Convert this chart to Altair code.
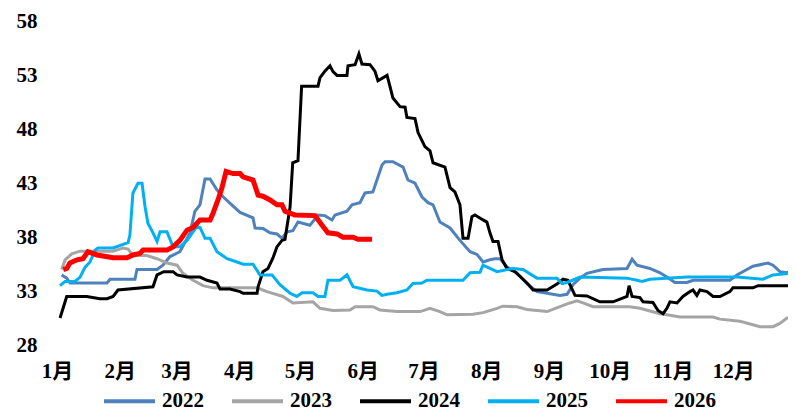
import altair as alt
import pandas as pd

# Month tick labels (day-of-year positions of month starts)
month_days = [0, 31, 59, 90, 120, 151, 181, 212, 243, 273, 304, 334]
month_labels = ["1月", "2月", "3月", "4月", "5月", "6月", "7月", "8月", "9月", "10月", "11月", "12月"]
y_ticks = [28, 33, 38, 43, 48, 53, 58]

years = ["2022", "2023", "2024", "2025", "2026"]
colors = ["#4F81BD", "#A5A5A5", "#000000", "#00B0F0", "#FF0000"]

# (day of year, value)
s2022 = [(2.3, 34.5), (4.8, 34.2), (6.4, 33.75), (24.7, 33.75), (26.2, 34.1), (38.5, 34.1), (39.5, 35.0),
         (49.4, 35.0), (52.3, 35.4), (55.8, 36.2), (60.7, 36.65), (65.7, 38.4), (68.1, 40.4), (70.6, 41.0),
         (73.1, 43.4), (75.6, 43.4), (78.9, 42.4), (82, 41.75), (86.3, 41.0), (90.4, 40.3), (96.8, 39.8),
         (97.8, 38.85), (101.7, 38.8), (105.2, 38.4), (108.6, 38.3), (111.1, 37.9), (113.6, 38.5),
         (116.5, 38.6), (119, 39.4), (124.9, 39.1), (128.9, 40.06), (132.3, 40.0), (135.8, 39.6),
         (137.3, 40.06), (143.2, 40.4), (145.7, 41.0), (149.6, 41.2), (152.1, 42.1), (156, 42.2),
         (158, 43.3), (160.5, 44.7), (162, 45.0), (165.9, 45.0), (170.9, 44.5), (173.3, 43.3),
         (176.8, 43.0), (180.2, 41.75), (183.2, 41.2), (185.7, 41.0), (189.1, 39.4), (194.1, 38.85),
         (199, 37.7), (204, 36.65), (207.4, 36.4), (210.4, 35.7), (213.8, 35.9), (216.3, 36.0),
         (218.8, 36.0), (222.2, 35.25), (227.2, 34.65), (232.1, 33.7), (237, 32.95), (242, 32.8),
         (248.4, 32.6), (251.9, 32.7), (254.8, 33.6), (258.3, 34.2), (261.7, 34.65), (269.6, 35.0),
         (281.5, 35.1), (284, 35.95), (286.4, 35.4), (292.8, 35.1), (297.8, 34.7), (301.2, 34.3),
         (305.2, 33.8), (311.1, 33.8), (314.1, 34.0), (332.3, 34.0), (335.8, 34.5), (340.7, 35.0),
         (343.7, 35.3), (351.1, 35.6), (353.6, 35.4), (357, 34.8), (360.5, 34.7), (365, 35.1)]

s2023 = [(2.3, 35.0), (4, 35.9), (7.3, 36.45), (11.4, 36.7), (27.7, 36.7), (32.6, 37.0), (35.1, 36.9),
         (37.5, 36.3), (44.4, 36.3), (49.4, 36.0), (54.3, 35.6), (59.3, 35.4), (62.2, 34.65), (67.2, 34.0),
         (72.1, 33.5), (77, 33.3), (98.8, 33.3), (103.7, 32.95), (111.6, 32.5), (116.5, 31.9),
         (126.4, 32.0), (129.9, 31.4), (136.3, 31.2), (144.7, 31.25), (147.2, 31.55), (156, 31.55),
         (159.5, 31.25), (167.9, 31.1), (179.3, 31.1), (184.2, 31.4), (189.1, 31.1), (192.6, 30.8),
         (205.4, 30.85), (210.4, 31.0), (217.3, 31.4), (220.2, 31.6), (227.2, 31.55), (232.1, 31.3),
         (242, 31.1), (248.4, 31.55), (253.3, 31.9), (256.8, 32.1), (259.8, 31.9), (264.7, 31.55),
         (282.9, 31.55), (287.9, 31.4), (297.8, 30.9), (301.2, 30.8), (307.7, 30.6), (324, 30.6),
         (327.4, 30.4), (337.3, 30.2), (347.2, 29.7), (353.6, 29.7), (357, 30.0), (360.5, 30.5),
         (363.5, 30.5)]

s2024 = [(1.5, 30.5), (4.8, 32.5), (14.7, 32.5), (21.2, 32.3), (24.7, 32.3), (27.7, 32.5), (30.1, 33.1),
         (47.4, 33.4), (49.4, 34.5), (52.8, 34.8), (57.3, 34.8), (59.3, 34.5), (64.2, 34.3), (70.6, 34.3),
         (74.1, 34.0), (79, 33.75), (80.5, 33.2), (85.4, 33.2), (90.4, 32.95), (91.9, 32.8), (98.8, 32.8),
         (99.3, 33.4), (101.7, 34.8), (104.2, 35.1), (106.7, 36.1), (108.6, 37.1), (111.1, 37.7),
         (112.6, 37.8), (115.1, 40.8), (116.4, 44.9), (119, 45.1), (120.8, 52.0), (128.9, 52.0),
         (129.9, 52.8), (132.3, 53.4), (134.8, 53.9), (136.3, 53.35), (138.3, 53.0), (143.2, 53.0),
         (143.7, 53.9), (147.2, 54.0), (149.1, 55.0), (150.6, 54.05), (154.6, 54.0), (157, 53.4),
         (158.5, 52.5), (163, 53.0), (164.4, 52.0), (165.9, 50.9), (169.4, 50.1), (171.9, 50.05),
         (172.8, 49.1), (176.8, 49.0), (178.3, 47.7), (181.7, 46.4), (184.2, 46.0), (185.7, 44.9),
         (191.6, 44.5), (194.1, 42.6), (196.5, 42.2), (199, 41.0), (200.5, 37.9), (203, 37.9),
         (204.9, 39.9), (206.4, 40.06), (210.4, 39.6), (212.3, 39.4), (213.8, 38.4), (215.3, 37.6),
         (217.8, 37.6), (219.8, 35.9), (222.2, 35.1), (226.2, 34.8), (232.1, 33.75), (235.1, 33.1),
         (242, 33.1), (246.9, 33.65), (249.9, 34.1), (252.3, 34.0), (255.8, 32.6), (261.7, 32.55),
         (268.1, 32.0), (274.6, 32.0), (281.5, 32.5), (282.5, 33.5), (284, 32.5), (287.9, 32.4),
         (289.4, 32.0), (294.3, 31.95), (296.8, 31.2), (299.3, 30.9), (301.2, 31.4), (302.7, 32.0),
         (306.2, 31.9), (309.1, 32.5), (312.6, 32.95), (314.1, 33.1), (316, 32.6), (317.5, 33.1),
         (321, 32.95), (324, 32.5), (327.4, 32.5), (332.3, 32.95), (333.8, 33.3), (343.7, 33.3),
         (346.2, 33.5), (365, 33.5)]

s2025 = [(1.5, 33.5), (4, 33.9), (8.9, 33.9), (11.4, 34.3), (13.8, 35.2), (16.3, 35.7), (18.8, 36.8),
         (20.2, 37.0), (27.7, 37.0), (35.1, 37.5), (36, 38.2), (37.5, 42.1), (40, 43.0), (42, 43.0),
         (43.5, 40.8), (44.9, 39.3), (47.4, 38.4), (49.4, 37.6), (50.9, 38.5), (54.3, 38.5), (57.3, 37.1),
         (60.7, 37.1), (64.2, 37.7), (69.1, 39.0), (70.6, 38.9), (73.1, 37.9), (75.6, 37.9), (79, 36.65),
         (84, 36.0), (88.9, 35.7), (91.9, 35.5), (96.8, 35.5), (100.2, 34.5), (106.2, 34.5), (110.1, 33.6),
         (115.1, 32.8), (118.5, 32.5), (121, 32.85), (126.4, 32.85), (128.9, 32.5), (132.3, 32.5),
         (133.8, 34.0), (139.8, 34.0), (143.2, 34.5), (146.2, 33.4), (153.1, 33.1), (158, 33.0),
         (160.5, 32.6), (163, 32.7), (167.9, 32.85), (172.8, 33.1), (175.8, 33.7), (180.2, 33.75),
         (182.7, 34.0), (189.1, 34.0), (200.5, 34.0), (204, 34.7), (208.9, 34.75), (210.4, 35.4),
         (213.8, 35.1), (217.3, 34.8), (225.2, 35.1), (230.1, 35.0), (237, 34.2), (246.9, 34.2),
         (249.4, 33.7), (251.9, 33.8), (258.3, 34.3), (281.5, 34.2), (286.4, 34.0), (288.9, 33.9),
         (292.8, 34.1), (311.1, 34.3), (335.8, 34.3), (348.6, 34.1), (353.6, 34.5), (361.5, 34.65),
         (365, 35.0)]

s2026 = [(3.1, 35.0), (4.8, 35.1), (6.4, 35.6), (9.9, 35.9), (12.8, 36.0), (15.3, 36.65), (19.8, 36.35),
         (27.7, 36.1), (34.6, 36.1), (37.5, 36.35), (41, 36.5), (42.5, 36.8), (54.3, 36.8), (57.3, 37.1),
         (60.7, 37.7), (64.2, 38.65), (67.2, 38.9), (70.6, 39.6), (75.6, 39.6), (77, 40.2), (79.5, 41.45),
         (81.5, 42.6), (83.5, 44.1), (86.9, 43.9), (90.4, 43.9), (91.9, 43.6), (96.8, 43.3), (99.3, 41.9),
         (101.7, 41.8), (105.2, 41.45), (108.6, 41.0), (111.1, 41.0), (112.6, 40.4), (117.5, 40.06),
         (127.4, 40.0), (130.9, 39.1), (133.8, 38.4), (138.3, 38.3), (141.2, 38.0), (146.2, 38.0),
         (148.6, 37.8), (155.6, 37.8)]

series = {"2022": s2022, "2023": s2023, "2024": s2024, "2025": s2025, "2026": s2026}
rows = []
for yr, pts in series.items():
    for i, (d, v) in enumerate(pts):
        rows.append({"year": yr, "day": d, "value": v, "order": i})
df = pd.DataFrame(rows)

FONT = "'Liberation Serif', 'Times New Roman', 'Noto Sans CJK SC', serif"

label_expr = "[" + ",".join("'%s'" % m for m in month_labels) + "][indexof([" + \
    ",".join(str(d) for d in month_days) + "], datum.value)]"

x = alt.X("day:Q", scale=alt.Scale(domain=[0, 361], nice=False, zero=False),
          axis=alt.Axis(values=month_days, labelExpr=label_expr, title=None, grid=False,
                        domain=False, ticks=False, labelPadding=15, labelFlush=False,
                        labelOverlap=False, labelFont=FONT, labelFontSize=21,
                        labelFontWeight="bold", labelColor="#000000"))
y = alt.Y("value:Q", scale=alt.Scale(domain=[28, 58], nice=False, zero=False),
          axis=alt.Axis(values=y_ticks, title=None, grid=False, domain=False, ticks=False,
                        labelPadding=20, labelFont=FONT, labelFontSize=21,
                        labelFontWeight="bold", labelColor="#000000"))
color = alt.Color("year:N", scale=alt.Scale(domain=years, range=colors),
                  legend=alt.Legend(title=None, orient="none", legendX=45, legendY=352,
                                    direction="horizontal", symbolType="stroke",
                                    symbolSize=2601, symbolStrokeWidth=4, labelOffset=5,
                                    columnPadding=20, padding=0, labelFont=FONT,
                                    labelFontSize=21, labelFontWeight="bold",
                                    labelColor="#000000"))

base = alt.Chart(df)
thin = base.transform_filter(alt.datum.year != "2026").mark_line(strokeWidth=3, clip=True).encode(
    x=x, y=y, color=color, order="order:Q", detail="year:N")
thick = base.transform_filter(alt.datum.year == "2026").mark_line(strokeWidth=5, clip=True).encode(
    x=x, y=y, color=color, order="order:Q")

chart = alt.layer(thin, thick).properties(
    width=731, height=323.5,
    autosize=alt.AutoSizeParams(type="none"),
    padding={"left": 49, "top": 13.5, "right": 0, "bottom": 66},
).configure_view(stroke=None)

chart.save("out.html", embed_options={"renderer": "svg", "actions": False})
